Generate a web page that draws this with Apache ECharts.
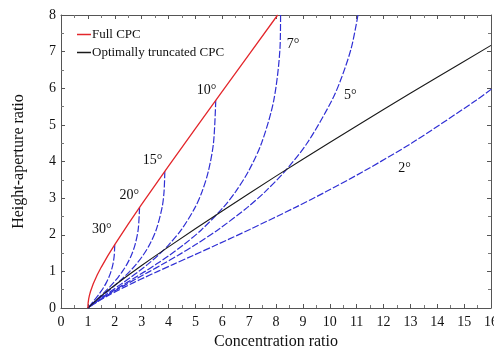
<!DOCTYPE html>
<html>
<head>
<meta charset="utf-8">
<script src="https://cdn.jsdelivr.net/npm/echarts@6/dist/echarts.min.js"></script>
<style>
  html, body { margin: 0; padding: 0; background: #fff; }
  #chart { width: 494px; height: 351px; }
</style>
</head>
<body>
<div id="chart"></div>
<script>
// values: [concentration ratio, height-aperture ratio]
const fullCpc = [
  [1, 0], [1.002, 0.063], [1.01, 0.142], [1.03, 0.247], [1.06, 0.352], [1.1, 0.458],
  [1.2, 0.663], [1.35, 0.907], [1.5, 1.118], [1.75, 1.436], [2, 1.732], [2.5, 2.291],
  [3, 2.828], [4, 3.873], [5, 4.899], [6, 5.916], [7, 6.928], [8.062, 8]
];
const optimalCpc = [
  [1, 0], [1.5, 0.33], [2, 0.62], [3, 1.16], [4, 1.67], [6, 2.65], [8, 3.6],
  [10, 4.52], [12, 5.42], [14, 6.3], [16, 7.17]
];
const trunc30 = [
  [2, 1.732], [1.98, 1.428], [1.931, 1.192], [1.862, 1], [1.781, 0.839], [1.692, 0.7],
  [1.598, 0.577], [1.501, 0.466], [1.402, 0.364], [1.302, 0.268], [1.201, 0.176],
  [1.101, 0.087], [1, 0]
];
const trunc20 = [
  [2.923, 2.748], [2.873, 2.145], [2.757, 1.732], [2.611, 1.428], [2.451, 1.192], [2.287, 1],
  [2.125, 0.839], [1.966, 0.7], [1.813, 0.577], [1.665, 0.466], [1.522, 0.364],
  [1.385, 0.268], [1.252, 0.176], [1.124, 0.087], [1, 0]
];
const trunc15 = [
  [3.863, 3.732], [3.834, 3.172], [3.762, 2.748], [3.547, 2.145], [3.298, 1.732], [3.043, 1.428],
  [2.795, 1.192], [2.56, 1], [2.34, 0.839], [2.134, 0.7], [1.941, 0.577], [1.761, 0.466],
  [1.592, 0.364], [1.432, 0.268], [1.281, 0.176], [1.137, 0.087], [1, 0]
];
const trunc10 = [
  [5.758, 5.671], [5.675, 4.511], [5.483, 3.732], [5.246, 3.172], [4.991, 2.748], [4.487, 2.145],
  [4.016, 1.732], [3.597, 1.428], [3.224, 1.192], [2.893, 1], [2.596, 0.839], [2.33, 0.7],
  [2.089, 0.577], [1.87, 0.466], [1.669, 0.364], [1.484, 0.268], [1.312, 0.176],
  [1.151, 0.087], [1, 0]
];
const trunc7 = [
  [8.17, 8], [8.15, 7.115], [7.917, 5.671], [7.467, 4.511], [6.975, 3.732], [6.493, 3.172],
  [6.041, 2.748], [5.24, 2.145], [4.571, 1.732], [4.01, 1.428], [3.535, 1.192], [3.128, 1],
  [2.775, 0.839], [2.464, 0.7], [2.189, 0.577], [1.943, 0.466], [1.72, 0.364],
  [1.518, 0.268], [1.332, 0.176], [1.16, 0.087], [1, 0]
];
const trunc5 = [
  [11.05, 8], [10.807, 7.115], [10.451, 6.314], [10.081, 5.671], [9.168, 4.511], [8.332, 3.732],
  [7.59, 3.172], [6.937, 2.748], [5.859, 2.145], [5.011, 1.732], [4.331, 1.428], [3.772, 1.192],
  [3.304, 1], [2.906, 0.839], [2.562, 0.7], [2.261, 0.577], [1.995, 0.466], [1.757, 0.364],
  [1.542, 0.268], [1.346, 0.176], [1.166, 0.087], [1, 0]
];
const trunc2 = [
  [16.017, 5.976], [15.448, 5.671], [13.065, 4.511], [11.26, 3.732], [9.851, 3.172], [8.722, 2.748],
  [7.026, 2.145], [5.811, 1.732], [4.896, 1.428], [4.18, 1.192], [3.602, 1], [3.125, 0.839],
  [2.723, 0.7], [2.379, 0.577], [2.079, 0.466], [1.815, 0.364], [1.58, 0.268], [1.368, 0.176],
  [1.176, 0.087], [1, 0]
];
const angleNames = ['30°', '20°', '15°', '10°', '7°', '5°', '2°'];
const angleLabelAt = [
  [1.52, 2.16], [2.54, 3.09], [3.41, 4.04], [5.42, 5.93], [8.63, 7.21], [10.76, 5.8], [12.78, 3.8]
];

const FONT = '"Liberation Serif", "DejaVu Serif", serif';
const BLUE = '#2f2fd4';

const truncated = [trunc30, trunc20, trunc15, trunc10, trunc7, trunc5, trunc2];

const chart = echarts.init(document.getElementById('chart'));

function axisBase(extra) {
  return Object.assign({
    type: 'value',
    axisLine: { show: true, onZero: false, lineStyle: { color: '#555', width: 1 } },
    axisTick: { show: true, inside: true, length: 4, lineStyle: { color: '#555' } },
    minorTick: { show: true, splitNumber: 2, length: 3, lineStyle: { color: '#777' } },
    splitLine: { show: false },
  }, extra);
}

const labelStyle = { fontFamily: FONT, fontSize: 14, color: '#111' };

const series = truncated.map((pts, i) => ({
  name: angleNames[i],
  type: 'line',
  data: pts,
  smooth: 0.3,
  showSymbol: false,
  lineStyle: { color: BLUE, width: 1.2, type: [7, 2] },
  z: 2,
}));

series.push({
  name: 'Optimally truncated CPC',
  type: 'line',
  data: optimalCpc,
  smooth: 0.3,
  showSymbol: false,
  lineStyle: { color: '#1a1a1a', width: 1.1 },
  itemStyle: { color: '#1a1a1a' },
  z: 3,
});

series.push({
  name: 'Full CPC',
  type: 'line',
  data: fullCpc,
  smooth: false,
  showSymbol: false,
  lineStyle: { color: '#e3262b', width: 1.3 },
  itemStyle: { color: '#e3262b' },
  z: 4,
});

// angle annotations
series.push({
  name: 'angles',
  type: 'scatter',
  symbolSize: 0,
  itemStyle: { opacity: 1 },
  data: angleLabelAt.map((p, i) => ({ value: p, name: angleNames[i] })),
  label: {
    show: true,
    position: 'inside',
    formatter: (p) => p.name,
    fontFamily: FONT,
    fontSize: 14,
    color: '#111',
    opacity: 1,
  },
  silent: true,
  z: 5,
});

chart.setOption({
  animation: false,
  backgroundColor: '#fff',
  grid: { left: 61, right: 3, top: 15, bottom: 43, containLabel: false, outerBoundsMode: 'none' },
  legend: {
    data: ['Full CPC', 'Optimally truncated CPC'],
    orient: 'vertical',
    left: 72,
    top: 23,
    itemGap: 5,
    itemWidth: 14,
    itemHeight: 1.5,
    icon: 'rect',
    textStyle: { fontFamily: FONT, fontSize: 13, color: '#111', padding: [0, 0, 0, -4] },
  },
  xAxis: [
    axisBase({
      min: 0, max: 16, interval: 1,
      axisLabel: Object.assign({ margin: 7 }, labelStyle),
      name: 'Concentration ratio',
      nameLocation: 'middle',
      nameGap: 24,
      nameTextStyle: { fontFamily: FONT, fontSize: 16, color: '#111' },
    }),
    axisBase({ min: 0, max: 16, interval: 1, position: 'top', axisLabel: { show: false } }),
  ],
  yAxis: [
    axisBase({
      min: 0, max: 8, interval: 1,
      axisLabel: Object.assign({ margin: 5 }, labelStyle),
      name: 'Height-aperture ratio',
      nameLocation: 'middle',
      nameGap: 34,
      nameTextStyle: { fontFamily: FONT, fontSize: 16, color: '#111' },
    }),
    axisBase({ min: 0, max: 8, interval: 1, position: 'right', axisLabel: { show: false } }),
  ],
  series,
});
</script>
</body>
</html>
